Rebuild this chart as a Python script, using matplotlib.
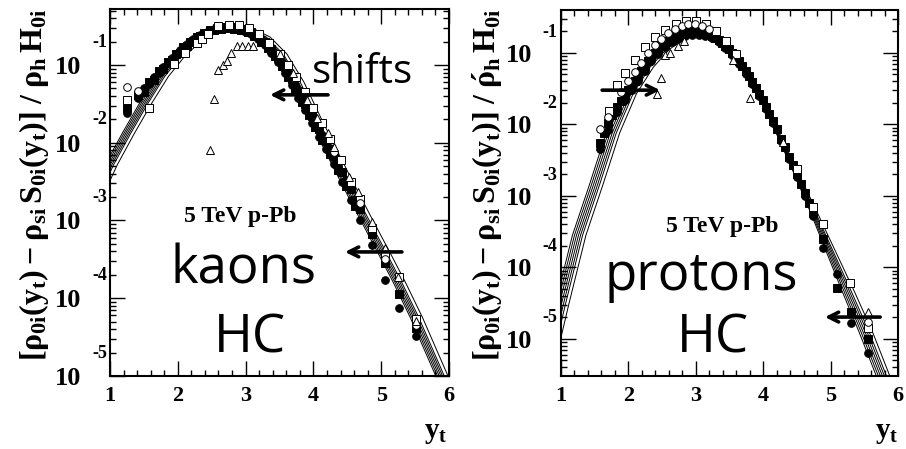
import numpy as np
import matplotlib.pyplot as plt
from matplotlib.ticker import MultipleLocator, FixedLocator, LogLocator, FixedFormatter, NullFormatter

plt.rcParams['mathtext.fontset'] = 'custom'
plt.rcParams['mathtext.rm'] = 'Liberation Serif:bold'
plt.rcParams['mathtext.it'] = 'Liberation Serif:bold'
plt.rcParams['mathtext.bf'] = 'Liberation Serif:bold'

SERIF = 'Liberation Serif'
SANS = 'Open Sans'

# ---- kaons: model curve (log10), drawn as a bundle shifted along y_t
kaon_curve_yt = [0.75, 1.0, 1.25, 1.5, 1.75, 2.0, 2.25, 2.5, 2.75, 3.0, 3.25, 3.5,
                 3.75, 4.0, 4.25, 4.5, 4.75, 5.0, 5.25, 5.5, 5.75, 6.0, 6.25]
kaon_curve_log = [-2.75, -2.28, -1.88, -1.50, -1.15, -0.88, -0.68, -0.56, -0.51, -0.53, -0.64, -0.86,
                  -1.22, -1.68, -2.12, -2.55, -2.97, -3.38, -3.80, -4.25, -4.75, -5.25, -5.75]
kaon_spread = [1.0] * 23
kaon_shifts = [-0.07, -0.045, -0.02, 0.005, 0.03, 0.055, 0.11]

# kaon data (log10 values)
kaon_yt = [1.25, 1.42, 1.58, 1.72, 1.85, 1.97, 2.08, 2.18, 2.28, 2.38, 2.48, 2.58,
           2.68, 2.78, 2.88, 2.98, 3.08, 3.18, 3.28, 3.38, 3.48, 3.58, 3.68, 3.78,
           3.88, 3.98, 4.08, 4.18, 4.30, 4.42, 4.55, 4.68, 4.86, 5.06, 5.26, 5.52]
kaon_sq = [-1.55, -1.38, -1.22, -1.08, -0.96, -0.86, -0.77, -0.70, -0.64, -0.59, -0.55, -0.52,
           -0.51, -0.51, -0.52, -0.54, -0.58, -0.63, -0.70, -0.79, -0.90, -1.03, -1.18, -1.34,
           -1.50, -1.66, -1.82, -1.98, -2.17, -2.38, -2.60, -2.85, -3.18, -3.55, -3.95, -4.38]
kaon_ci = [-1.62, -1.42, -1.25, -1.10, -0.97, -0.87, -0.78, -0.71, -0.65, -0.60, -0.56, -0.53,
           -0.52, -0.52, -0.53, -0.56, -0.60, -0.66, -0.74, -0.84, -0.96, -1.10, -1.26, -1.42,
           -1.58, -1.75, -1.92, -2.08, -2.28, -2.50, -2.74, -3.00, -3.32, -3.77, -4.12, -4.48]
kaon_yt2 = [1.50, 1.65, 1.78, 1.91, 2.03, 2.13, 2.23, 2.33, 2.43, 2.53,
            2.63, 2.73, 2.83, 2.93, 3.03, 3.13, 3.23, 3.33, 3.43, 3.53,
            3.63, 3.73, 3.83, 3.93, 4.03, 4.13, 4.24, 4.36, 4.48, 4.61]
kaon_ci2 = [-1.30, -1.15, -1.02, -0.91, -0.81, -0.73, -0.67, -0.61, -0.57, -0.535,
            -0.515, -0.51, -0.515, -0.53, -0.56, -0.60, -0.66, -0.74, -0.84, -0.96,
            -1.10, -1.26, -1.42, -1.58, -1.74, -1.90, -2.07, -2.28, -2.48, -2.72]
kaon_sq2 = [-1.35, -1.19, -1.05, -0.94, -0.84, -0.76, -0.69, -0.63, -0.59, -0.555,
            -0.535, -0.53, -0.535, -0.55, -0.58, -0.63, -0.70, -0.78, -0.89, -1.01,
            -1.15, -1.31, -1.47, -1.64, -1.80, -1.96, -2.14, -2.35, -2.56, -2.81]
kaon_osq_yt = [1.25, 1.58, 1.94, 2.10, 2.28, 2.36, 2.45, 2.60, 2.75, 2.90, 3.05, 3.20, 3.35, 3.50,
               3.62, 3.75, 3.88, 4.00, 4.12, 4.25, 4.40, 4.55, 4.68, 4.86, 5.06, 5.26, 5.52]
kaon_osq = [-1.45, -1.55, -0.99, -0.84, -0.72, -0.66, -0.60, -0.50, -0.48, -0.48, -0.52, -0.60, -0.72, -0.86,
            -1.00, -1.15, -1.35, -1.55, -1.75, -1.95, -2.22, -2.50, -2.72, -3.10, -3.45, -3.73, -4.27]
kaon_oci_yt = [1.25, 1.42, 4.30, 4.68, 5.06, 5.52]
kaon_oci = [-1.28, -1.33, -2.12, -2.78, -3.50, -4.35]
kaon_tri_yt = [2.47, 2.54, 2.60, 2.66, 2.72, 2.79, 2.88, 2.95, 3.04, 3.11, 3.50,
               3.70, 3.90, 4.05, 4.22, 4.31, 4.53, 4.66, 4.86, 5.06, 5.25, 5.52]
kaon_tri = [-2.10, -1.44, -1.06, -1.00, -0.95, -0.84, -0.76, -0.75, -0.75, -0.75, -0.86,
            -1.10, -1.45, -1.68, -1.88, -2.06, -2.44, -2.64, -3.02, -3.35, -3.73, -4.29]

# ---- protons (bundle is narrow on the falling side)
proton_curve_yt = [0.75, 1.0, 1.25, 1.5, 1.75, 2.0, 2.25, 2.5, 2.75, 3.0, 3.25, 3.5,
                   3.75, 4.0, 4.25, 4.5, 4.75, 5.0, 5.25, 5.5, 5.75, 6.0, 6.25]
proton_curve_log = [-5.5, -4.5, -3.55, -2.85, -2.12, -1.57, -1.20, -0.95, -0.80, -0.75, -0.78, -0.95,
                    -1.25, -1.70, -2.20, -2.72, -3.25, -3.80, -4.35, -4.90, -5.50, -6.10, -6.70]
proton_spread = [1.0, 1.0, 1.0, 1.0, 1.0, 1.0, 1.0, 0.9, 0.7, 0.5, 0.35, 0.25,
                 0.2, 0.2, 0.25, 0.35, 0.5, 0.7, 0.9, 1.0, 1.0, 1.0, 1.0]
proton_shifts = [-0.08, -0.05, -0.02, 0.01, 0.04, 0.07, 0.12]

proton_yt = [1.58, 1.70, 1.83, 1.95, 2.05, 2.14, 2.24, 2.34, 2.44, 2.54, 2.64, 2.74,
             2.84, 2.94, 3.04, 3.14, 3.24, 3.34, 3.44, 3.54, 3.64, 3.74, 3.84, 3.94,
             4.04, 4.14, 4.26, 4.38, 4.50, 4.62, 4.74, 4.89, 5.09, 5.30, 5.56]
proton_sq = [-2.26, -1.98, -1.75, -1.59, -1.45, -1.33, -1.18, -1.05, -0.95, -0.87, -0.80, -0.75,
             -0.72, -0.70, -0.70, -0.72, -0.76, -0.82, -0.90, -1.00, -1.12, -1.26, -1.41, -1.57,
             -1.76, -1.95, -2.20, -2.45, -2.70, -2.96, -3.24, -3.60, -4.29, -4.62, -5.00]
proton_ci = [-2.35, -2.08, -1.82, -1.66, -1.52, -1.40, -1.25, -1.12, -1.01, -0.92, -0.85, -0.80,
             -0.77, -0.75, -0.75, -0.76, -0.79, -0.85, -0.93, -1.03, -1.15, -1.29, -1.44, -1.60,
             -1.79, -1.98, -2.23, -2.48, -2.74, -3.00, -3.28, -3.73, -4.10, -4.78, -5.20]
proton_yt2 = [1.64, 1.76, 1.89, 2.00, 2.10, 2.19, 2.29, 2.39, 2.49, 2.59,
              2.69, 2.79, 2.89, 2.99, 3.09, 3.19, 3.29, 3.39, 3.49, 3.59,
              3.69, 3.79, 3.89, 3.99, 4.09, 4.20, 4.32, 4.44, 4.56, 4.68]
proton_sq2 = [-2.12, -1.87, -1.67, -1.52, -1.39, -1.26, -1.11, -1.00, -0.91, -0.83,
              -0.77, -0.73, -0.71, -0.70, -0.71, -0.74, -0.79, -0.86, -0.95, -1.06,
              -1.19, -1.33, -1.49, -1.66, -1.85, -2.07, -2.32, -2.57, -2.83, -3.10]
proton_osq_yt = [1.71, 1.83, 1.95, 2.10, 2.25, 2.40, 2.55, 2.70, 2.85, 3.00, 3.15, 3.30,
                 3.45, 3.60, 4.50, 4.74, 4.89, 5.29, 5.56]
proton_osq = [-1.81, -1.45, -1.28, -1.10, -0.92, -0.78, -0.68, -0.60, -0.56, -0.56, -0.60, -0.70,
              -0.84, -1.02, -2.62, -3.15, -3.40, -4.22, -4.85]
proton_oci_yt = [1.58, 1.70, 1.89, 2.00, 2.10, 2.19, 2.29, 2.39, 2.49, 2.59,
                 2.69, 2.79, 2.89, 2.99, 3.09, 3.19, 5.56]
proton_oci = [-2.06, -1.90, -1.55, -1.40, -1.27, -1.14, -1.00, -0.89, -0.80, -0.72,
              -0.66, -0.62, -0.60, -0.60, -0.62, -0.66, -4.76]
proton_tri_yt = [2.43, 2.48, 2.55, 2.62, 2.74, 2.82, 3.55, 3.80, 4.30, 5.56]
proton_tri = [-1.57, -1.35, -1.03, -1.00, -0.90, -0.84, -1.10, -1.63, -2.25, -4.63]


def draw_panel(ax, curve_yt, curve_log, spread, shifts, series, ylog_lo, ylog_hi, exp_dx, exp_dy):
    cx = np.array(curve_yt)
    cy = 10 ** np.array(curve_log)
    w = np.array(spread)
    for s in shifts:
        ax.plot(cx + s * w, cy, color='k', lw=0.7, zorder=2)

    for x, y, marker, filled in series:
        ax.plot(x, 10 ** np.array(y), linestyle='none', marker=marker, ms=5.5,
                mfc='k' if filled else 'white', mec='k', mew=0.7, zorder=3)

    ax.set_yscale('log')
    ax.set_xlim(1, 6)
    ax.set_ylim(10 ** ylog_lo, 10 ** ylog_hi)

    decades = [-5, -4, -3, -2, -1]
    ax.xaxis.set_major_locator(MultipleLocator(1))
    ax.xaxis.set_minor_locator(MultipleLocator(0.2))
    ax.yaxis.set_major_locator(FixedLocator([10.0 ** d for d in decades]))
    ax.yaxis.set_major_formatter(FixedFormatter(['10'] * len(decades)))
    ax.yaxis.set_minor_locator(LogLocator(base=10, subs=np.arange(2, 10), numticks=20))
    ax.yaxis.set_minor_formatter(NullFormatter())

    ax.tick_params(which='both', direction='in', top=True, right=True, width=1.0)
    ax.tick_params(which='major', length=10.5)
    ax.tick_params(which='minor', length=4.5)
    ax.tick_params(axis='y', which='major', pad=21)
    ax.tick_params(axis='x', which='major', pad=7)
    for lab in ax.get_xticklabels():
        lab.set_fontfamily(SERIF)
        lab.set_fontweight('bold')
        lab.set_fontsize(16)
    for lab in ax.get_yticklabels():
        lab.set_fontfamily(SERIF)
        lab.set_fontweight('bold')
        lab.set_fontsize(19)
    for sp in ax.spines.values():
        sp.set_linewidth(1.5)

    for d in decades:
        ax.annotate(str(d), xy=(0, 10.0 ** d), xycoords=('axes fraction', 'data'),
                    xytext=(exp_dx, exp_dy), textcoords='offset points',
                    ha='right', va='center', fontfamily=SERIF, fontweight='bold', fontsize=13)


def arrow(ax, tail, head):
    ax.annotate('', xy=head, xytext=tail, xycoords='axes fraction',
                arrowprops=dict(arrowstyle='->,head_length=0.7,head_width=0.35',
                                lw=2.6, color='k', shrinkA=0, shrinkB=0))


fig = plt.figure(figsize=(9.06, 4.49), dpi=100)
ax1 = fig.add_axes([0.1214, 0.1626, 0.3742, 0.8174])
ax2 = fig.add_axes([0.6192, 0.1626, 0.3720, 0.8151])

draw_panel(ax1, kaon_curve_yt, kaon_curve_log, kaon_spread, kaon_shifts,
           [(kaon_yt, kaon_ci, 'o', True), (kaon_yt, kaon_sq, 's', True),
            (kaon_yt2, kaon_ci2, 'o', True), (kaon_yt2, kaon_sq2, 's', True),
            (kaon_osq_yt, kaon_osq, 's', False), (kaon_oci_yt, kaon_oci, 'o', False),
            (kaon_tri_yt, kaon_tri, '^', False)],
           -5.0, -0.28, -2, 16.5)
draw_panel(ax2, proton_curve_yt, proton_curve_log, proton_spread, proton_shifts,
           [(proton_yt, proton_ci, 'o', True), (proton_yt, proton_sq, 's', True),
            (proton_yt2, proton_sq2, 's', True),
            (proton_osq_yt, proton_osq, 's', False), (proton_oci_yt, proton_oci, 'o', False),
            (proton_tri_yt, proton_tri, '^', False)],
           -5.52, -0.40, -3, 15)

# panel annotations
ax1.text(0.596, 0.798, 'shifts', transform=ax1.transAxes, fontfamily=SANS, fontsize=29, va='baseline')
ax1.text(0.383, 0.42, '5 TeV p-Pb', transform=ax1.transAxes, fontfamily=SERIF,
         fontweight='bold', fontsize=17, ha='center', va='baseline')
ax1.text(0.393, 0.253, 'kaons', transform=ax1.transAxes, fontfamily=SANS, fontsize=38,
         ha='center', va='baseline')
ax1.text(0.413, 0.063, 'HC', transform=ax1.transAxes, fontfamily=SANS, fontsize=38,
         ha='center', va='baseline')
arrow(ax1, (0.643, 0.766), (0.472, 0.766))
arrow(ax1, (0.861, 0.338), (0.693, 0.338))

ax2.text(0.478, 0.393, '5 TeV p-Pb', transform=ax2.transAxes, fontfamily=SERIF,
         fontweight='bold', fontsize=17, ha='center', va='baseline')
ax2.text(0.415, 0.235, 'protons', transform=ax2.transAxes, fontfamily=SANS, fontsize=38,
         ha='center', va='baseline')
ax2.text(0.45, 0.063, 'HC', transform=ax2.transAxes, fontfamily=SANS, fontsize=38,
         ha='center', va='baseline')
arrow(ax2, (0.122, 0.781), (0.294, 0.781))
arrow(ax2, (0.947, 0.161), (0.783, 0.161))

# axis titles
ylab1 = r'$[\rho_{0i}(y_t) - \rho_{si}\,S_{0i}(y_t)]\;/\;\rho_h\,H_{0i}$'
ylab2 = r"$[\rho_{0i}(y_t) - \rho_{si}\,S_{0i}(y_t)]\;/\;\acute{\rho}_h\,H_{0i}$"
fig.text(0.0375, 0.588, ylab1, rotation=90, ha='center', va='center', fontsize=23)
fig.text(0.5386, 0.588, ylab2, rotation=90, ha='center', va='center', fontsize=23)
fig.text(0.4934, 0.025, r'$y_t$', ha='right', va='baseline', fontsize=21)
fig.text(0.991, 0.025, r'$y_t$', ha='right', va='baseline', fontsize=21)

fig.savefig('out.png', dpi=100)
